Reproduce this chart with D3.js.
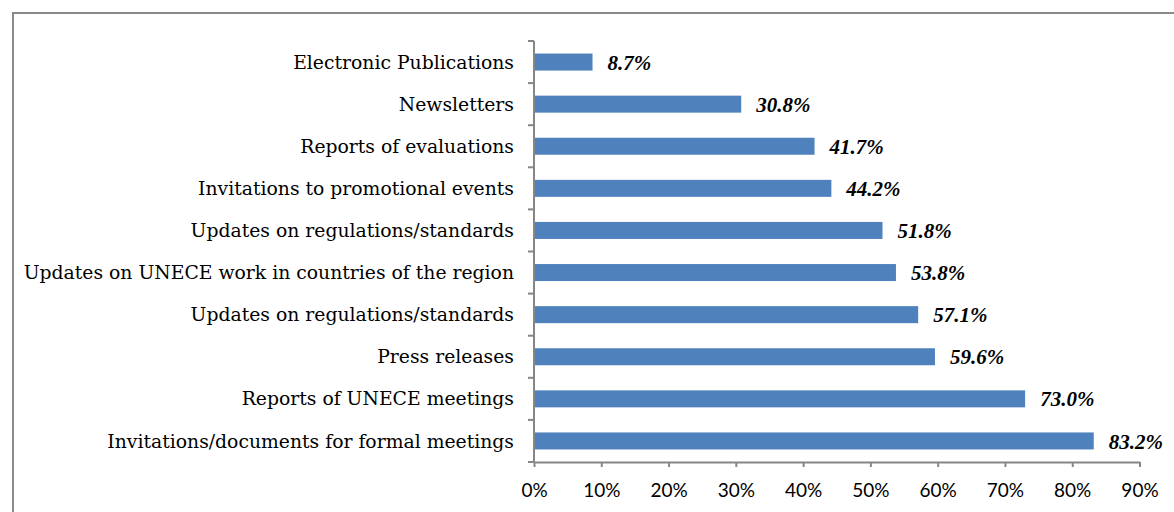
<!DOCTYPE html>
<html><head><meta charset="utf-8">
<script src="https://cdn.jsdelivr.net/npm/d3@7"></script>
<style>body{margin:0;background:#fff;} svg{display:block;}</style>
</head><body>
<svg id="c" width="1174" height="512"></svg>
<script>
const categories = [
  "Electronic Publications",
  "Newsletters",
  "Reports of evaluations",
  "Invitations to promotional events",
  "Updates on regulations/standards",
  "Updates on UNECE work in countries of the region",
  "Updates on regulations/standards ",
  "Press releases",
  "Reports of UNECE meetings",
  "Invitations/documents for formal meetings"
];
const values = [8.7, 30.8, 41.7, 44.2, 51.8, 53.8, 57.1, 59.6, 73.0, 83.2];
const xTicks = [0, 10, 20, 30, 40, 50, 60, 70, 80, 90];

const svg = d3.select("#c");
// outer border
svg.append("rect").attr("x", 13).attr("y", 13).attr("width", 1200).attr("height", 600)
  .attr("fill", "none").attr("stroke", "#8a8a8a").attr("stroke-width", 2);

const pLeft = 534, pRight = 1139.5, pTop = 41, pBottom = 462;
const x = d3.scaleLinear().domain([0, 90]).range([pLeft, pRight]);
const band = d3.scaleBand().domain(categories).range([pTop, pBottom]);

// bars
svg.selectAll("rect.bar").data(values).enter().append("rect")
  .attr("class", "bar")
  .attr("x", x(0))
  .attr("y", (d, i) => band(categories[i]) + band.bandwidth() / 2 - 8.5)
  .attr("width", d => x(d) - x(0))
  .attr("height", 17)
  .attr("fill", "#4f81bd");

// value labels
svg.selectAll("text.val").data(values).enter().append("text")
  .attr("x", d => x(d) + 15)
  .attr("y", (d, i) => band(categories[i]) + band.bandwidth() / 2)
  .attr("dy", "0.36em")
  .attr("font-family", "'Liberation Serif', serif")
  .attr("font-weight", "bold").attr("font-style", "italic")
  .attr("font-size", 21)
  .attr("fill", "#000")
  .text(d => d.toFixed(1) + "%");

// category labels
svg.selectAll("text.cat").data(categories).enter().append("text")
  .attr("x", pLeft - 20)
  .attr("y", d => band(d) + band.bandwidth() / 2)
  .attr("dy", "0.35em")
  .attr("text-anchor", "end")
  .attr("font-family", "'DejaVu Serif', serif")
  .attr("font-size", 18.8)
  .attr("fill", "#000")
  .text(d => d.trim());

const axisColor = "#868686";
// y axis line and ticks
svg.append("line").attr("x1", pLeft).attr("x2", pLeft).attr("y1", pTop).attr("y2", pBottom)
  .attr("stroke", axisColor).attr("stroke-width", 2);
const bounds = categories.map(c => band(c)).concat([pBottom]);
svg.selectAll("line.yt").data(bounds).enter().append("line")
  .attr("x1", pLeft - 6).attr("x2", pLeft).attr("y1", d => d).attr("y2", d => d)
  .attr("stroke", axisColor).attr("stroke-width", 2);

// x axis
const xAxis = d3.axisBottom(x).tickValues(xTicks).tickFormat(d => d + "%").tickSize(5).tickSizeOuter(0).tickPadding(17);
const gx = svg.append("g").attr("transform", `translate(0,${pBottom})`).call(xAxis);
gx.select(".domain").attr("stroke", axisColor).attr("stroke-width", 2);
gx.selectAll(".tick line").attr("stroke", axisColor).attr("stroke-width", 2);
gx.selectAll(".tick text").attr("font-family", "Lato, 'Open Sans', sans-serif").attr("font-size", 19).attr("fill", "#000");
</script>
</body></html>
